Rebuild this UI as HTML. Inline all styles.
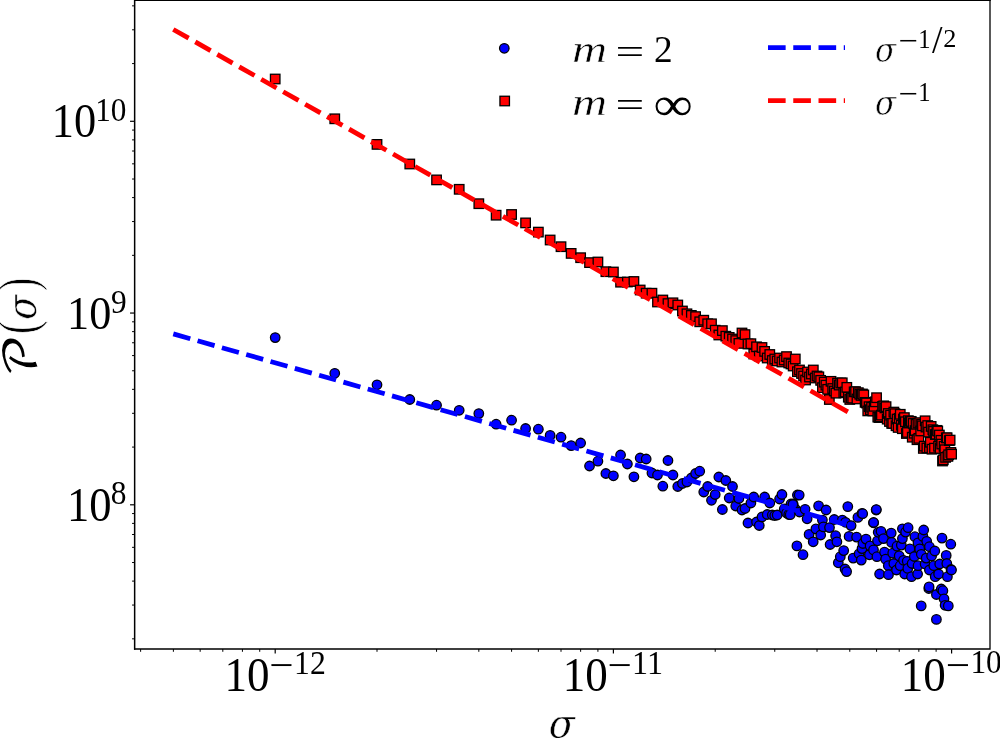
<!DOCTYPE html>
<html><head><meta charset="utf-8"><title>P(sigma)</title>
<style>
html,body{margin:0;padding:0;background:#fff;}
svg{display:block;}
text{font-family:"Liberation Serif","DejaVu Serif",serif;fill:#000;}
.it{font-style:italic;}
</style></head><body>
<svg width="1000" height="738" viewBox="0 0 1000 738">
<rect width="1000" height="738" fill="#fff"/>

<g fill="#0000ff" stroke="#000" stroke-width="1.3">
<circle cx="275.2" cy="337.6" r="4.75"/>
<circle cx="334.75" cy="373.3" r="4.75"/>
<circle cx="377.01" cy="384.8" r="4.75"/>
<circle cx="409.78" cy="399.5" r="4.75"/>
<circle cx="436.56" cy="405.2" r="4.75"/>
<circle cx="459.2" cy="410.3" r="4.75"/>
<circle cx="478.82" cy="413.6" r="4.75"/>
<circle cx="496.12" cy="424.2" r="4.75"/>
<circle cx="511.59" cy="420.2" r="4.75"/>
<circle cx="525.59" cy="428.5" r="4.75"/>
<circle cx="538.37" cy="429.2" r="4.75"/>
<circle cx="550.13" cy="435.4" r="4.75"/>
<circle cx="561.01" cy="437.2" r="4.75"/>
<circle cx="571.15" cy="445.6" r="4.75"/>
<circle cx="580.63" cy="443" r="4.75"/>
<circle cx="589.53" cy="466" r="4.75"/>
<circle cx="597.92" cy="461.2" r="4.75"/>
<circle cx="605.87" cy="473.5" r="4.75"/>
<circle cx="613.4" cy="475.8" r="4.75"/>
<circle cx="620.57" cy="455" r="4.75"/>
<circle cx="627.4" cy="464" r="4.75"/>
<circle cx="633.93" cy="476.8" r="4.75"/>
<circle cx="640.18" cy="458" r="4.75"/>
<circle cx="646.17" cy="459" r="4.75"/>
<circle cx="651.94" cy="473" r="4.75"/>
<circle cx="657.48" cy="475" r="4.75"/>
<circle cx="662.82" cy="486.2" r="4.75"/>
<circle cx="667.97" cy="460.5" r="4.75"/>
<circle cx="672.95" cy="475" r="4.75"/>
<circle cx="677.77" cy="486.5" r="4.75"/>
<circle cx="682.43" cy="483.5" r="4.75"/>
<circle cx="686.95" cy="482" r="4.75"/>
<circle cx="691.34" cy="478" r="4.75"/>
<circle cx="695.6" cy="473.5" r="4.75"/>
<circle cx="699.73" cy="471.2" r="4.75"/>
<circle cx="703.76" cy="492" r="4.75"/>
<circle cx="707.67" cy="486.5" r="4.75"/>
<circle cx="711.49" cy="500.3" r="4.75"/>
<circle cx="715.21" cy="494.5" r="4.75"/>
<circle cx="718.84" cy="477" r="4.75"/>
<circle cx="722.37" cy="509.5" r="4.75"/>
<circle cx="725.83" cy="480.5" r="4.75"/>
<circle cx="729.21" cy="498" r="4.75"/>
<circle cx="732.51" cy="486.5" r="4.75"/>
<circle cx="735.74" cy="506" r="4.75"/>
<circle cx="738.9" cy="498.5" r="4.75"/>
<circle cx="741.99" cy="510" r="4.75"/>
<circle cx="745.02" cy="508.5" r="4.75"/>
<circle cx="747.98" cy="523" r="4.75"/>
<circle cx="750.89" cy="503" r="4.75"/>
<circle cx="753.74" cy="497" r="4.75"/>
<circle cx="756.54" cy="522" r="4.75"/>
<circle cx="759.29" cy="525.5" r="4.75"/>
<circle cx="761.98" cy="517" r="4.75"/>
<circle cx="764.63" cy="497" r="4.75"/>
<circle cx="767.23" cy="514.5" r="4.75"/>
<circle cx="769.78" cy="503" r="4.75"/>
<circle cx="772.29" cy="515" r="4.75"/>
<circle cx="774.76" cy="515.5" r="4.75"/>
<circle cx="777.19" cy="515" r="4.75"/>
<circle cx="779.58" cy="499" r="4.75"/>
<circle cx="781.93" cy="494.5" r="4.75"/>
<circle cx="784.24" cy="509" r="4.75"/>
<circle cx="786.52" cy="513" r="4.75"/>
<circle cx="788.76" cy="514.5" r="4.75"/>
<circle cx="790.97" cy="504" r="4.75"/>
<circle cx="793.15" cy="504" r="4.75"/>
<circle cx="795.29" cy="509" r="4.75"/>
<circle cx="797.4" cy="495" r="4.75"/>
<circle cx="799.49" cy="512" r="4.75"/>
<circle cx="790.2" cy="514.7" r="4.75"/>
<circle cx="792.9" cy="504.6" r="4.75"/>
<circle cx="796.9" cy="545.9" r="4.75"/>
<circle cx="799.2" cy="495.1" r="4.75"/>
<circle cx="803" cy="554.7" r="4.75"/>
<circle cx="805.1" cy="509.3" r="4.75"/>
<circle cx="807.1" cy="518.8" r="4.75"/>
<circle cx="809.1" cy="534.4" r="4.75"/>
<circle cx="813.2" cy="541.8" r="4.75"/>
<circle cx="815.9" cy="528.9" r="4.75"/>
<circle cx="818.6" cy="505.9" r="4.75"/>
<circle cx="820.7" cy="535" r="4.75"/>
<circle cx="822.4" cy="520.1" r="4.75"/>
<circle cx="823.4" cy="526.9" r="4.75"/>
<circle cx="826.1" cy="510" r="4.75"/>
<circle cx="829.5" cy="527.6" r="4.75"/>
<circle cx="830.1" cy="544.5" r="4.75"/>
<circle cx="834.2" cy="519.5" r="4.75"/>
<circle cx="835.6" cy="535.7" r="4.75"/>
<circle cx="836.9" cy="541.8" r="4.75"/>
<circle cx="838.3" cy="562.8" r="4.75"/>
<circle cx="840.3" cy="556.7" r="4.75"/>
<circle cx="842.3" cy="520.1" r="4.75"/>
<circle cx="843.7" cy="550.6" r="4.75"/>
<circle cx="845" cy="569" r="4.75"/>
<circle cx="845.5" cy="522.3" r="4.75"/>
<circle cx="846.6" cy="571.6" r="4.75"/>
<circle cx="847.8" cy="506.6" r="4.75"/>
<circle cx="849.1" cy="536.4" r="4.75"/>
<circle cx="851.1" cy="525.6" r="4.75"/>
<circle cx="853.2" cy="558.1" r="4.75"/>
<circle cx="856.6" cy="537.1" r="4.75"/>
<circle cx="857.9" cy="517.4" r="4.75"/>
<circle cx="859.1" cy="553.8" r="4.75"/>
<circle cx="861.3" cy="560.1" r="4.75"/>
<circle cx="862" cy="513.4" r="4.75"/>
<circle cx="862" cy="548.6" r="4.75"/>
<circle cx="862.7" cy="513.7" r="4.75"/>
<circle cx="862.9" cy="543.5" r="4.75"/>
<circle cx="866" cy="539.1" r="4.75"/>
<circle cx="869.4" cy="554.8" r="4.75"/>
<circle cx="870.1" cy="545.9" r="4.75"/>
<circle cx="873.5" cy="522.8" r="4.75"/>
<circle cx="873.5" cy="549.9" r="4.75"/>
<circle cx="873.6" cy="522.5" r="4.75"/>
<circle cx="876.2" cy="510" r="4.75"/>
<circle cx="876.3" cy="509.6" r="4.75"/>
<circle cx="876.9" cy="556.7" r="4.75"/>
<circle cx="877.5" cy="540.8" r="4.75"/>
<circle cx="878.2" cy="532.3" r="4.75"/>
<circle cx="879.6" cy="574" r="4.75"/>
<circle cx="881" cy="531.3" r="4.75"/>
<circle cx="883.5" cy="538.6" r="4.75"/>
<circle cx="884.5" cy="552.1" r="4.75"/>
<circle cx="885.6" cy="559.2" r="4.75"/>
<circle cx="888.3" cy="565.7" r="4.75"/>
<circle cx="888.5" cy="574.7" r="4.75"/>
<circle cx="891.2" cy="533.1" r="4.75"/>
<circle cx="891.6" cy="542.4" r="4.75"/>
<circle cx="892.7" cy="553.2" r="4.75"/>
<circle cx="893.8" cy="563.5" r="4.75"/>
<circle cx="896.5" cy="570" r="4.75"/>
<circle cx="897" cy="546.2" r="4.75"/>
<circle cx="899.2" cy="555.9" r="4.75"/>
<circle cx="900.2" cy="565.7" r="4.75"/>
<circle cx="901.3" cy="545.1" r="4.75"/>
<circle cx="902.4" cy="528.8" r="4.75"/>
<circle cx="902.4" cy="538.6" r="4.75"/>
<circle cx="903.5" cy="560.3" r="4.75"/>
<circle cx="904.7" cy="574" r="4.75"/>
<circle cx="905.6" cy="532.1" r="4.75"/>
<circle cx="907.2" cy="561.3" r="4.75"/>
<circle cx="907.8" cy="568.4" r="4.75"/>
<circle cx="908.1" cy="527.7" r="4.75"/>
<circle cx="909.9" cy="548.9" r="4.75"/>
<circle cx="911.5" cy="576.7" r="4.75"/>
<circle cx="912.1" cy="563.5" r="4.75"/>
<circle cx="914.3" cy="556.5" r="4.75"/>
<circle cx="914.9" cy="536.7" r="4.75"/>
<circle cx="917.6" cy="574" r="4.75"/>
<circle cx="918" cy="542.9" r="4.75"/>
<circle cx="918" cy="565.7" r="4.75"/>
<circle cx="919.7" cy="548.9" r="4.75"/>
<circle cx="921.2" cy="605.9" r="4.75"/>
<circle cx="921.3" cy="554.3" r="4.75"/>
<circle cx="922.9" cy="536.4" r="4.75"/>
<circle cx="923.7" cy="530" r="4.75"/>
<circle cx="925.1" cy="564" r="4.75"/>
<circle cx="926.2" cy="558.1" r="4.75"/>
<circle cx="926.7" cy="541.3" r="4.75"/>
<circle cx="928.8" cy="588.5" r="4.75"/>
<circle cx="929.1" cy="586.9" r="4.75"/>
<circle cx="929.4" cy="546.7" r="4.75"/>
<circle cx="929.4" cy="570" r="4.75"/>
<circle cx="931.6" cy="555.9" r="4.75"/>
<circle cx="933.8" cy="565.7" r="4.75"/>
<circle cx="934.8" cy="551" r="4.75"/>
<circle cx="935.2" cy="576.7" r="4.75"/>
<circle cx="936.4" cy="594.5" r="4.75"/>
<circle cx="936.4" cy="619.4" r="4.75"/>
<circle cx="938.6" cy="574" r="4.75"/>
<circle cx="939.7" cy="564" r="4.75"/>
<circle cx="941.3" cy="589" r="4.75"/>
<circle cx="942" cy="538.1" r="4.75"/>
<circle cx="942.9" cy="590.7" r="4.75"/>
<circle cx="944" cy="598.8" r="4.75"/>
<circle cx="945.1" cy="605.3" r="4.75"/>
<circle cx="946.2" cy="555.4" r="4.75"/>
<circle cx="946.8" cy="563.5" r="4.75"/>
<circle cx="947.4" cy="576.7" r="4.75"/>
<circle cx="948.3" cy="605.9" r="4.75"/>
<circle cx="950.8" cy="544.2" r="4.75"/>
<circle cx="951" cy="569.5" r="4.75"/>
<circle cx="951.5" cy="570" r="4.75"/>
</g>
<g fill="#ff0000" stroke="#000" stroke-width="1.3">
<rect x="270.45" y="74.25" width="9.5" height="9.5"/>
<rect x="330" y="114.05" width="9.5" height="9.5"/>
<rect x="372.26" y="139.65" width="9.5" height="9.5"/>
<rect x="405.03" y="159.25" width="9.5" height="9.5"/>
<rect x="431.81" y="175.15" width="9.5" height="9.5"/>
<rect x="454.45" y="184.55" width="9.5" height="9.5"/>
<rect x="474.07" y="198.95" width="9.5" height="9.5"/>
<rect x="491.37" y="210.45" width="9.5" height="9.5"/>
<rect x="506.84" y="209.75" width="9.5" height="9.5"/>
<rect x="520.84" y="218.15" width="9.5" height="9.5"/>
<rect x="533.62" y="227.35" width="9.5" height="9.5"/>
<rect x="545.38" y="235.25" width="9.5" height="9.5"/>
<rect x="556.26" y="241.95" width="9.5" height="9.5"/>
<rect x="566.4" y="248.65" width="9.5" height="9.5"/>
<rect x="575.88" y="252.95" width="9.5" height="9.5"/>
<rect x="584.78" y="257.85" width="9.5" height="9.5"/>
<rect x="593.17" y="257.25" width="9.5" height="9.5"/>
<rect x="601.12" y="266.95" width="9.5" height="9.5"/>
<rect x="608.65" y="267.25" width="9.5" height="9.5"/>
<rect x="615.82" y="277.45" width="9.5" height="9.5"/>
<rect x="622.65" y="277.25" width="9.5" height="9.5"/>
<rect x="629.18" y="276.75" width="9.5" height="9.5"/>
<rect x="635.43" y="285.25" width="9.5" height="9.5"/>
<rect x="641.42" y="288.45" width="9.5" height="9.5"/>
<rect x="647.19" y="288.45" width="9.5" height="9.5"/>
<rect x="652.73" y="297.25" width="9.5" height="9.5"/>
<rect x="658.07" y="295.25" width="9.5" height="9.5"/>
<rect x="663.22" y="298.85" width="9.5" height="9.5"/>
<rect x="668.2" y="298.05" width="9.5" height="9.5"/>
<rect x="673.02" y="300.25" width="9.5" height="9.5"/>
<rect x="677.68" y="306.25" width="9.5" height="9.5"/>
<rect x="682.2" y="309.05" width="9.5" height="9.5"/>
<rect x="686.59" y="310.65" width="9.5" height="9.5"/>
<rect x="690.85" y="311.85" width="9.5" height="9.5"/>
<rect x="694.98" y="317.05" width="9.5" height="9.5"/>
<rect x="699.01" y="315.45" width="9.5" height="9.5"/>
<rect x="702.92" y="319.05" width="9.5" height="9.5"/>
<rect x="706.74" y="319.05" width="9.5" height="9.5"/>
<rect x="710.46" y="325.45" width="9.5" height="9.5"/>
<rect x="714.09" y="330.25" width="9.5" height="9.5"/>
<rect x="717.62" y="325.85" width="9.5" height="9.5"/>
<rect x="721.08" y="331.45" width="9.5" height="9.5"/>
<rect x="724.46" y="332.65" width="9.5" height="9.5"/>
<rect x="727.76" y="334.25" width="9.5" height="9.5"/>
<rect x="730.99" y="335.85" width="9.5" height="9.5"/>
<rect x="734.15" y="338.65" width="9.5" height="9.5"/>
<rect x="737.24" y="328.25" width="9.5" height="9.5"/>
<rect x="740.27" y="329.85" width="9.5" height="9.5"/>
<rect x="743.23" y="339.25" width="9.5" height="9.5"/>
<rect x="746.14" y="338.95" width="9.5" height="9.5"/>
<rect x="748.99" y="349.25" width="9.5" height="9.5"/>
<rect x="751.79" y="342.05" width="9.5" height="9.5"/>
<rect x="754.54" y="351.25" width="9.5" height="9.5"/>
<rect x="757.23" y="342.75" width="9.5" height="9.5"/>
<rect x="759.88" y="346.65" width="9.5" height="9.5"/>
<rect x="762.48" y="353.25" width="9.5" height="9.5"/>
<rect x="765.03" y="349.75" width="9.5" height="9.5"/>
<rect x="767.54" y="355.75" width="9.5" height="9.5"/>
<rect x="770.01" y="354.25" width="9.5" height="9.5"/>
<rect x="772.44" y="356.25" width="9.5" height="9.5"/>
<rect x="774.83" y="353.25" width="9.5" height="9.5"/>
<rect x="777.18" y="357.25" width="9.5" height="9.5"/>
<rect x="779.49" y="355.25" width="9.5" height="9.5"/>
<rect x="781.77" y="351.85" width="9.5" height="9.5"/>
<rect x="784.01" y="358.25" width="9.5" height="9.5"/>
<rect x="786.22" y="359.25" width="9.5" height="9.5"/>
<rect x="788.4" y="361.25" width="9.5" height="9.5"/>
<rect x="790.54" y="354.25" width="9.5" height="9.5"/>
<rect x="792.65" y="366.95" width="9.5" height="9.5"/>
<rect x="794.74" y="365.25" width="9.5" height="9.5"/>
<rect x="796.79" y="368.75" width="9.5" height="9.5"/>
<rect x="798.82" y="371.25" width="9.5" height="9.5"/>
<rect x="800.82" y="375.25" width="9.5" height="9.5"/>
<rect x="802.79" y="367.25" width="9.5" height="9.5"/>
<rect x="804.73" y="372.25" width="9.5" height="9.5"/>
<rect x="806.65" y="369.25" width="9.5" height="9.5"/>
<rect x="808.55" y="365.25" width="9.5" height="9.5"/>
<rect x="810.42" y="373.25" width="9.5" height="9.5"/>
<rect x="812.27" y="371.25" width="9.5" height="9.5"/>
<rect x="814.09" y="372.07" width="9.5" height="9.5"/>
<rect x="815.89" y="375.61" width="9.5" height="9.5"/>
<rect x="817.67" y="382.88" width="9.5" height="9.5"/>
<rect x="819.43" y="377.41" width="9.5" height="9.5"/>
<rect x="821.17" y="380.4" width="9.5" height="9.5"/>
<rect x="822.89" y="384.58" width="9.5" height="9.5"/>
<rect x="824.59" y="394.75" width="9.5" height="9.5"/>
<rect x="826.27" y="376.58" width="9.5" height="9.5"/>
<rect x="827.93" y="383.78" width="9.5" height="9.5"/>
<rect x="829.57" y="386.26" width="9.5" height="9.5"/>
<rect x="831.19" y="388.42" width="9.5" height="9.5"/>
<rect x="832.79" y="378.44" width="9.5" height="9.5"/>
<rect x="834.38" y="380.32" width="9.5" height="9.5"/>
<rect x="835.95" y="378.29" width="9.5" height="9.5"/>
<rect x="837.51" y="378.05" width="9.5" height="9.5"/>
<rect x="839.05" y="388.03" width="9.5" height="9.5"/>
<rect x="840.57" y="387.27" width="9.5" height="9.5"/>
<rect x="842.07" y="382.61" width="9.5" height="9.5"/>
<rect x="843.57" y="392.47" width="9.5" height="9.5"/>
<rect x="845.04" y="394.7" width="9.5" height="9.5"/>
<rect x="846.5" y="393.12" width="9.5" height="9.5"/>
<rect x="847.95" y="393.39" width="9.5" height="9.5"/>
<rect x="849.38" y="387.09" width="9.5" height="9.5"/>
<rect x="850.8" y="386.87" width="9.5" height="9.5"/>
<rect x="852.21" y="394.21" width="9.5" height="9.5"/>
<rect x="853.6" y="387.91" width="9.5" height="9.5"/>
<rect x="854.98" y="389.44" width="9.5" height="9.5"/>
<rect x="856.35" y="390.66" width="9.5" height="9.5"/>
<rect x="857.7" y="389.25" width="9.5" height="9.5"/>
<rect x="859.04" y="390.17" width="9.5" height="9.5"/>
<rect x="860.37" y="397.62" width="9.5" height="9.5"/>
<rect x="861.69" y="398.23" width="9.5" height="9.5"/>
<rect x="862.99" y="406.17" width="9.5" height="9.5"/>
<rect x="864.29" y="401.93" width="9.5" height="9.5"/>
<rect x="865.57" y="404.98" width="9.5" height="9.5"/>
<rect x="866.84" y="402.45" width="9.5" height="9.5"/>
<rect x="868.1" y="406.21" width="9.5" height="9.5"/>
<rect x="869.35" y="401.56" width="9.5" height="9.5"/>
<rect x="870.59" y="397.07" width="9.5" height="9.5"/>
<rect x="871.82" y="392.95" width="9.5" height="9.5"/>
<rect x="873.04" y="412.36" width="9.5" height="9.5"/>
<rect x="874.25" y="412.8" width="9.5" height="9.5"/>
<rect x="875.45" y="412.15" width="9.5" height="9.5"/>
<rect x="876.64" y="410.37" width="9.5" height="9.5"/>
<rect x="877.82" y="401.65" width="9.5" height="9.5"/>
<rect x="878.99" y="401.1" width="9.5" height="9.5"/>
<rect x="880.15" y="403.16" width="9.5" height="9.5"/>
<rect x="881.3" y="401.9" width="9.5" height="9.5"/>
<rect x="882.44" y="414.39" width="9.5" height="9.5"/>
<rect x="883.58" y="408.74" width="9.5" height="9.5"/>
<rect x="884.7" y="416.73" width="9.5" height="9.5"/>
<rect x="885.82" y="410.37" width="9.5" height="9.5"/>
<rect x="886.93" y="418.65" width="9.5" height="9.5"/>
<rect x="888.03" y="418.66" width="9.5" height="9.5"/>
<rect x="889.12" y="407.32" width="9.5" height="9.5"/>
<rect x="890.2" y="408.91" width="9.5" height="9.5"/>
<rect x="891.28" y="421.01" width="9.5" height="9.5"/>
<rect x="892.35" y="414.31" width="9.5" height="9.5"/>
<rect x="893.41" y="422.71" width="9.5" height="9.5"/>
<rect x="894.46" y="413.62" width="9.5" height="9.5"/>
<rect x="895.51" y="409.54" width="9.5" height="9.5"/>
<rect x="896.55" y="420.47" width="9.5" height="9.5"/>
<rect x="897.58" y="423.96" width="9.5" height="9.5"/>
<rect x="898.6" y="414.25" width="9.5" height="9.5"/>
<rect x="899.62" y="412.85" width="9.5" height="9.5"/>
<rect x="900.63" y="416.99" width="9.5" height="9.5"/>
<rect x="901.63" y="428.76" width="9.5" height="9.5"/>
<rect x="902.62" y="427.68" width="9.5" height="9.5"/>
<rect x="903.61" y="415.91" width="9.5" height="9.5"/>
<rect x="904.6" y="418.03" width="9.5" height="9.5"/>
<rect x="905.57" y="416.58" width="9.5" height="9.5"/>
<rect x="906.54" y="416.71" width="9.5" height="9.5"/>
<rect x="907.5" y="432.45" width="9.5" height="9.5"/>
<rect x="908.46" y="418.68" width="9.5" height="9.5"/>
<rect x="909.41" y="428.47" width="9.5" height="9.5"/>
<rect x="910.36" y="425.84" width="9.5" height="9.5"/>
<rect x="911.29" y="419.57" width="9.5" height="9.5"/>
<rect x="912.23" y="434.96" width="9.5" height="9.5"/>
<rect x="913.15" y="418.4" width="9.5" height="9.5"/>
<rect x="914.08" y="433.58" width="9.5" height="9.5"/>
<rect x="914.99" y="417.93" width="9.5" height="9.5"/>
<rect x="915.9" y="426.21" width="9.5" height="9.5"/>
<rect x="916.8" y="419.54" width="9.5" height="9.5"/>
<rect x="917.7" y="421.09" width="9.5" height="9.5"/>
<rect x="918.59" y="443.66" width="9.5" height="9.5"/>
<rect x="919.48" y="441.35" width="9.5" height="9.5"/>
<rect x="920.36" y="416.05" width="9.5" height="9.5"/>
<rect x="921.24" y="422.31" width="9.5" height="9.5"/>
<rect x="922.11" y="443.23" width="9.5" height="9.5"/>
<rect x="922.98" y="420.8" width="9.5" height="9.5"/>
<rect x="923.84" y="427.37" width="9.5" height="9.5"/>
<rect x="924.7" y="443.02" width="9.5" height="9.5"/>
<rect x="925.55" y="437.52" width="9.5" height="9.5"/>
<rect x="926.4" y="421.67" width="9.5" height="9.5"/>
<rect x="927.24" y="444.47" width="9.5" height="9.5"/>
<rect x="928.07" y="424.96" width="9.5" height="9.5"/>
<rect x="928.91" y="426.61" width="9.5" height="9.5"/>
<rect x="929.73" y="443.41" width="9.5" height="9.5"/>
<rect x="930.56" y="429.81" width="9.5" height="9.5"/>
<rect x="931.37" y="429.44" width="9.5" height="9.5"/>
<rect x="932.19" y="425.61" width="9.5" height="9.5"/>
<rect x="933" y="426.3" width="9.5" height="9.5"/>
<rect x="933.8" y="441.56" width="9.5" height="9.5"/>
<rect x="934.6" y="430.27" width="9.5" height="9.5"/>
<rect x="935.4" y="443.72" width="9.5" height="9.5"/>
<rect x="936.19" y="435.56" width="9.5" height="9.5"/>
<rect x="936.98" y="439.31" width="9.5" height="9.5"/>
<rect x="937.76" y="456.25" width="9.5" height="9.5"/>
<rect x="938.54" y="455.05" width="9.5" height="9.5"/>
<rect x="939.32" y="441.62" width="9.5" height="9.5"/>
<rect x="940.09" y="444.99" width="9.5" height="9.5"/>
<rect x="940.85" y="452.6" width="9.5" height="9.5"/>
<rect x="941.62" y="433.09" width="9.5" height="9.5"/>
<rect x="942.38" y="433.02" width="9.5" height="9.5"/>
<rect x="943.13" y="451.64" width="9.5" height="9.5"/>
<rect x="943.88" y="450.04" width="9.5" height="9.5"/>
<rect x="944.63" y="435.85" width="9.5" height="9.5"/>
<rect x="945.37" y="435.32" width="9.5" height="9.5"/>
<rect x="946.11" y="447.68" width="9.5" height="9.5"/>
<rect x="946.85" y="449.41" width="9.5" height="9.5"/>
</g>
<g fill="none" stroke-width="4.77" stroke-dasharray="17.64 7.62">
<path d="M173.3 333.9L849.8 525.68" stroke="#0000ff"/>
<path d="M173.3 29.45L849.8 413.01" stroke="#ff0000"/>
</g>
<g fill="none" stroke="#000" stroke-width="1.5" stroke-linecap="square">
<path d="M134.65 649V0.25H990"/><path d="M990 0.25V649H134.65" stroke-width="1.3"/>
</g>
<g stroke="#000" fill="none"><path d="M140.62 649v2.8" stroke-width="1"/><path d="M173.39 649v2.8" stroke-width="1"/><path d="M200.17 649v2.8" stroke-width="1"/><path d="M222.81 649v2.8" stroke-width="1"/><path d="M242.43 649v2.8" stroke-width="1"/><path d="M259.72 649v2.8" stroke-width="1"/><path d="M275.2 649v4.6" stroke-width="1.2"/><path d="M377.01 649v2.8" stroke-width="1"/><path d="M436.56 649v2.8" stroke-width="1"/><path d="M478.82 649v2.8" stroke-width="1"/><path d="M511.59 649v2.8" stroke-width="1"/><path d="M538.37 649v2.8" stroke-width="1"/><path d="M561.01 649v2.8" stroke-width="1"/><path d="M580.63 649v2.8" stroke-width="1"/><path d="M597.92 649v2.8" stroke-width="1"/><path d="M613.4 649v4.6" stroke-width="1.2"/><path d="M715.21 649v2.8" stroke-width="1"/><path d="M774.76 649v2.8" stroke-width="1"/><path d="M817.02 649v2.8" stroke-width="1"/><path d="M849.79 649v2.8" stroke-width="1"/><path d="M876.57 649v2.8" stroke-width="1"/><path d="M899.21 649v2.8" stroke-width="1"/><path d="M918.83 649v2.8" stroke-width="1"/><path d="M936.12 649v2.8" stroke-width="1"/><path d="M951.6 649v4.6" stroke-width="1.2"/><path d="M134.65 638.83h-2.6" stroke-width="1"/><path d="M134.65 605.06h-2.6" stroke-width="1"/><path d="M134.65 581.1h-2.6" stroke-width="1"/><path d="M134.65 562.52h-2.6" stroke-width="1"/><path d="M134.65 547.34h-2.6" stroke-width="1"/><path d="M134.65 534.5h-2.6" stroke-width="1"/><path d="M134.65 523.38h-2.6" stroke-width="1"/><path d="M134.65 513.57h-2.6" stroke-width="1"/><path d="M134.65 504.8h-4.6" stroke-width="1.2"/><path d="M134.65 447.08h-2.6" stroke-width="1"/><path d="M134.65 413.31h-2.6" stroke-width="1"/><path d="M134.65 389.35h-2.6" stroke-width="1"/><path d="M134.65 370.77h-2.6" stroke-width="1"/><path d="M134.65 355.59h-2.6" stroke-width="1"/><path d="M134.65 342.75h-2.6" stroke-width="1"/><path d="M134.65 331.63h-2.6" stroke-width="1"/><path d="M134.65 321.82h-2.6" stroke-width="1"/><path d="M134.65 313.05h-4.6" stroke-width="1.2"/><path d="M134.65 255.33h-2.6" stroke-width="1"/><path d="M134.65 221.56h-2.6" stroke-width="1"/><path d="M134.65 197.6h-2.6" stroke-width="1"/><path d="M134.65 179.02h-2.6" stroke-width="1"/><path d="M134.65 163.84h-2.6" stroke-width="1"/><path d="M134.65 151h-2.6" stroke-width="1"/><path d="M134.65 139.88h-2.6" stroke-width="1"/><path d="M134.65 130.07h-2.6" stroke-width="1"/><path d="M134.65 121.3h-4.6" stroke-width="1.2"/><path d="M134.65 63.58h-2.6" stroke-width="1"/><path d="M134.65 29.81h-2.6" stroke-width="1"/><path d="M134.65 5.85h-2.6" stroke-width="1"/></g>
<circle cx="504.3" cy="48.3" r="4.75" fill="#0000ff" stroke="#000" stroke-width="1.3"/>
<rect x="499.95" y="96.25" width="9.5" height="9.5" fill="#ff0000" stroke="#000" stroke-width="1.3"/>
<g fill="none" stroke-width="4.77" stroke-dasharray="17.64 7.62">
<path d="M768 47.6h77" stroke="#0000ff"/>
<path d="M768 100.6h77" stroke="#ff0000"/>
</g>

<g><text transform="translate(51.81 137.45) scale(0.9312 1)" font-size="47.65">10</text>
<text transform="translate(95.19 120.52) scale(0.9164 1)" font-size="34.12">10</text>
<text transform="translate(67.02 329.06) scale(0.9404 1)" font-size="47.06">10</text>
<text transform="translate(111.06 312.66) scale(0.9146 1)" font-size="34.33">9</text>
<text transform="translate(66.99 521.04) scale(0.9331 1)" font-size="47.79">10</text>
<text transform="translate(110.74 504.32) scale(0.9212 1)" font-size="34.12">8</text>
<text transform="translate(224.44 690.53) scale(0.9313 1)" font-size="48.38">10</text>
<text transform="translate(269.34 677.62) scale(1.1111 1)" font-size="38.87">−</text>
<text transform="translate(294.04 673.66) scale(0.9328 1)" font-size="34.03">12</text>
<text transform="translate(562.64 690.53) scale(0.9313 1)" font-size="48.38">10</text>
<text transform="translate(607.54 677.62) scale(1.1111 1)" font-size="38.87">−</text>
<text transform="translate(632.11 674.00) scale(0.9292 1)" font-size="34.55">11</text>
<text transform="translate(900.84 690.53) scale(0.9313 1)" font-size="48.38">10</text>
<text transform="translate(945.74 677.62) scale(1.1111 1)" font-size="38.87">−</text>
<text transform="translate(970.38 673.33) scale(0.9359 1)" font-size="33.53">10</text>
<text stroke="#fff" stroke-width="0.5" transform="translate(548.77 738.49) scale(0.9240 1)" font-size="41.32" font-style="italic" style='font-family:"DejaVu Serif", serif'>σ</text>
<text stroke="#fff" stroke-width="0.5" transform="translate(571.95 61.52) scale(1.2857 1)" font-size="37.92" font-style="italic">m</text>
<text transform="translate(615.55 63.64) scale(1.4029 1)" font-size="36.40">=</text>
<text stroke="#fff" stroke-width="0.5" transform="translate(571.95 114.82) scale(1.2857 1)" font-size="37.92" font-style="italic">m</text>
<text transform="translate(615.55 116.94) scale(1.4029 1)" font-size="36.40">=</text>
<text transform="translate(653.91 61.51) scale(0.9616 1)" font-size="38.81">2</text>
<text transform="translate(653.60 119.61) scale(1.1693 1)" font-size="47.11">∞</text>
<text stroke="#fff" stroke-width="0.5" transform="translate(875.07 61.57) scale(0.9315 1)" font-size="33.02" font-style="italic" style='font-family:"DejaVu Serif", serif'>σ</text>
<text transform="translate(898.48 51.19) scale(1.1111 1)" font-size="31.02">−</text>
<text transform="translate(918.19 47.50) scale(0.9267 1)" font-size="26.52">1</text>
<text transform="translate(931.90 53.20) scale(0.9500 1)" font-size="39.85">/</text>
<text transform="translate(943.25 47.24) scale(1.0085 1)" font-size="26.12">2</text>
<text stroke="#fff" stroke-width="0.5" transform="translate(875.07 114.57) scale(0.9315 1)" font-size="33.02" font-style="italic" style='font-family:"DejaVu Serif", serif'>σ</text>
<text transform="translate(898.48 104.29) scale(1.1111 1)" font-size="31.02">−</text>
<text transform="translate(918.19 100.50) scale(0.9267 1)" font-size="26.52">1</text></g>
<g transform="rotate(-90)"><text transform="translate(-377.02 37.45) scale(1.1241 1)" font-size="44.74" style='font-family:"DejaVu Math TeX Gyre", "Liberation Serif", serif'>𝒫</text>
<text stroke="#fff" stroke-width="0.9" transform="translate(-334.28 36.23) scale(0.7546 1)" font-size="55.56">(</text>
<text stroke="#fff" stroke-width="0.5" transform="translate(-319.76 36.09) scale(0.8878 1)" font-size="41.13" font-style="italic" style='font-family:"DejaVu Serif", serif'>σ</text>
<text stroke="#fff" stroke-width="0.9" transform="translate(-291.10 36.23) scale(0.7200 1)" font-size="55.56">)</text></g>
</svg></body></html>
